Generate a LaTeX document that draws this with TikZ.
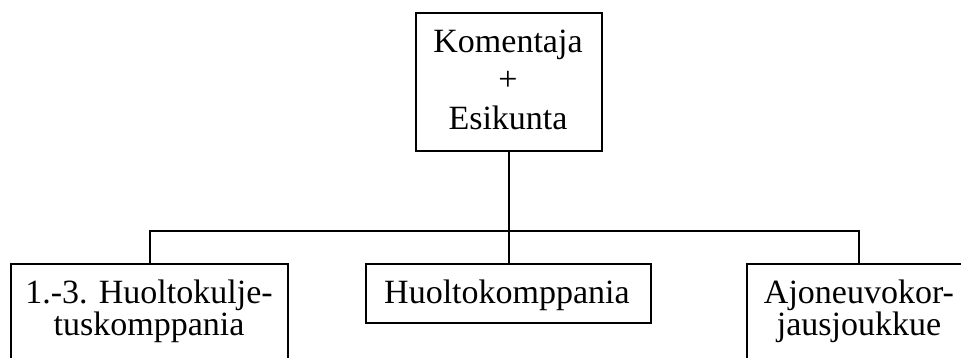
\documentclass[tikz,border=0pt]{standalone}
\usepackage{fontspec}
\setmainfont{Liberation Serif}
\begin{document}
\begin{tikzpicture}[x=1pt,y=-1pt,
  box/.style={draw=black,line width=1.8pt,inner sep=0pt,anchor=north west},
  lbl/.style={inner sep=0pt,anchor=base,font=\fontsize{34}{38}\selectfont},
  conn/.style={draw=black,line width=1.8pt}]
\useasboundingbox (0,0) rectangle (961,358);
% boxes
\node[box,minimum width=186pt,minimum height=138pt] (top) at (415,12) {};
\node[box,minimum width=277pt,minimum height=130pt] (b1) at (10,263) {};
\node[box,minimum width=285pt,minimum height=59pt] (b2) at (365,263) {};
\node[box,minimum width=226pt,minimum height=130pt] (b3) at (746,263) {};
% texts
\node[lbl] (t0a) at (508,53) {Komentaja};
\node[lbl] (t0b) at (508,91) {+};
\node[lbl] (t0c) at (508,130) {Esikunta};
\node[lbl] (t1a) at (149,303) {1.-3. Huoltokulje-};
\node[lbl] (t1b) at (149,335) {tuskomppania};
\node[lbl] (t2) at (507,303) {Huoltokomppania};
\node[lbl] (t3a) at (859,303) {Ajoneuvokor-};
\node[lbl] (t3b) at (859,335) {jausjoukkue};
% connectors
\coordinate (bar) at (508,231);
\draw[conn] (top.south) -- (top.south |- b2.north);
\draw[conn] (b1.north -| 150,0) |- (bar) -| (b3.north -| 859,0);
\end{tikzpicture}
\end{document}
